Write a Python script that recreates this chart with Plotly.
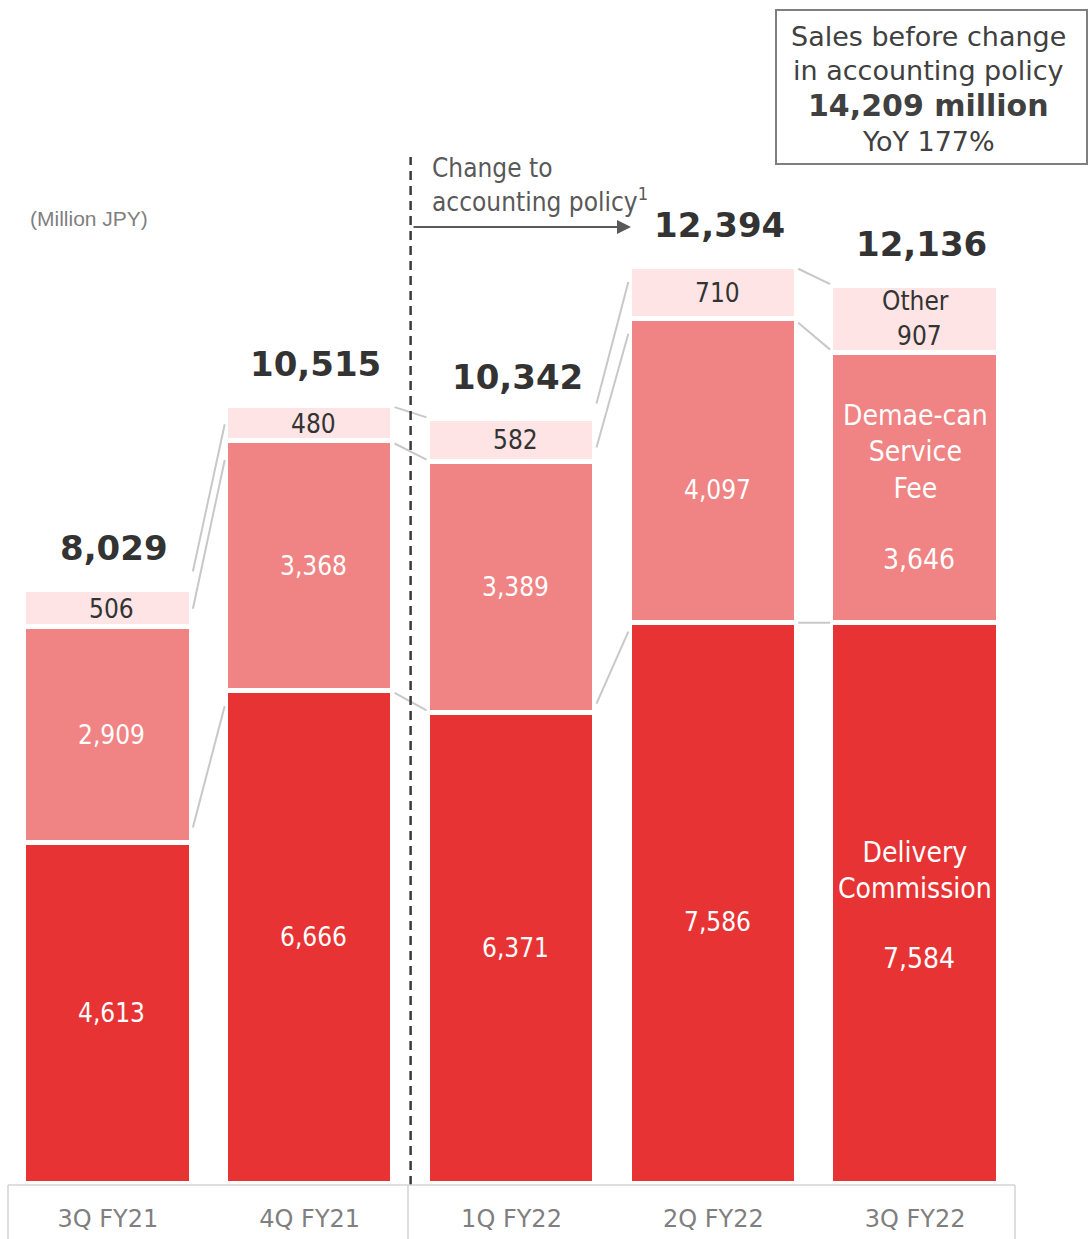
import plotly.graph_objects as go

# Quarterly sales breakdown (million JPY)
categories = ["3Q FY21", "4Q FY21", "1Q FY22", "2Q FY22", "3Q FY22"]
delivery = [4613, 6666, 6371, 7586, 7584]
service_fee = [2909, 3368, 3389, 4097, 3646]
other = [506, 480, 582, 710, 907]
totals = [8029, 10515, 10342, 12394, 12136]

COND = "DejaVu Sans Condensed, DejaVu Sans, sans-serif"
WIDE = "DejaVu Sans, Verdana, sans-serif"
RED = "#e83335"
PINK = "#f08383"
LIGHT = "#fee4e4"
DARK = "#333333"

W, H = 1089, 1239
ML, MR, MT, MB = 7, 73, 8, 55
PW, PH = W - ML - MR, H - MT - MB
YMAX = PH / 0.074


def px_to_paper_x(px):
    return (px - ML) / PW


def px_to_paper_y(py):
    return (H - MB - py) / PH


def fmt(v):
    return f"{v:,}"


x = list(range(len(categories)))
BAR_W = 0.83
# vertical nudge (pixels) of the in-bar labels per column
label_nudge = [0, 0, 0, -19, 0]

fig = go.Figure()
for name, vals, color in [("Delivery Commission", delivery, RED),
                          ("Demae-can Service Fee", service_fee, PINK),
                          ("Other", other, LIGHT)]:
    fig.add_trace(go.Bar(
        x=x, y=vals, name=name, width=BAR_W,
        marker=dict(color=color, line=dict(color="white", width=5)),
        hoverinfo="skip",
    ))

annotations = []
shapes = []


def label(xv, yv, text, color, size, family=COND, xs=4, ys=0):
    annotations.append(dict(x=xv, y=yv, text=text, showarrow=False,
                            xshift=xs, yshift=ys,
                            font=dict(color=color, size=size, family=family)))


# segment value labels and totals
for i in x:
    d_mid = delivery[i] / 2
    s_mid = delivery[i] + service_fee[i] / 2
    o_mid = delivery[i] + service_fee[i] + other[i] / 2
    if i == len(x) - 1:
        label(i, d_mid, "Delivery<br>Commission", "white", 28, xs=0, ys=33)
        label(i, d_mid, fmt(delivery[i]), "white", 28, ys=-55)
        label(i, s_mid, "Demae-can<br>Service<br>Fee", "white", 28, xs=0, ys=36)
        label(i, s_mid, fmt(service_fee[i]), "white", 28, ys=-72)
        label(i, o_mid, "Other", DARK, 26, xs=0, ys=18)
        label(i, o_mid, fmt(other[i]), DARK, 26, ys=-17)
    else:
        label(i, d_mid, fmt(delivery[i]), "white", 26, ys=label_nudge[i])
        label(i, s_mid, fmt(service_fee[i]), "white", 26, ys=label_nudge[i])
        label(i, o_mid, fmt(other[i]), DARK, 26)
    label(i, totals[i], f"<b>{fmt(totals[i])}</b>", DARK, 34, family=WIDE, xs=6, ys=42)

# connector lines between neighbouring bars
half = 162 / 2 / (PW / 5)
shrink = 0.1
for i in range(len(x) - 1):
    a_levels = [delivery[i], delivery[i] + service_fee[i], totals[i]]
    b_levels = [delivery[i + 1], delivery[i + 1] + service_fee[i + 1], totals[i + 1]]
    for ya, yb in zip(a_levels, b_levels):
        x0, x1 = i + half, i + 1 - half
        dx, dy = x1 - x0, yb - ya
        shapes.append(dict(type="line", xref="x", yref="y",
                           x0=x0 + dx * shrink, y0=ya + dy * shrink,
                           x1=x1 - dx * shrink, y1=yb - dy * shrink,
                           line=dict(color="#c8c8c8", width=2)))

# dashed divider for the accounting policy change
shapes.append(dict(type="line", xref="x", yref="paper", x0=1.5, x1=1.5,
                   y0=px_to_paper_y(1185), y1=px_to_paper_y(157),
                   line=dict(color="#3a3a3a", width=2.5, dash="9px,6px")))

# category frame below the bars
frame = dict(color="#d4d4d4", width=1.5)
shapes.append(dict(type="line", xref="paper", yref="paper",
                   x0=px_to_paper_x(8), x1=px_to_paper_x(1015),
                   y0=px_to_paper_y(1185), y1=px_to_paper_y(1185), line=frame))
for px in (8, 408, 1015):
    shapes.append(dict(type="line", xref="paper", yref="paper",
                       x0=px_to_paper_x(px), x1=px_to_paper_x(px),
                       y0=px_to_paper_y(1185), y1=px_to_paper_y(1239), line=frame))

# summary box
shapes.append(dict(type="rect", xref="paper", yref="paper",
                   x0=px_to_paper_x(776), x1=px_to_paper_x(1087),
                   y0=px_to_paper_y(164), y1=px_to_paper_y(10),
                   line=dict(color="#7f7f7f", width=2), fillcolor="white"))
box_lines = [("Sales before change", 36, 27), ("in accounting policy", 70, 27),
             ("<b>14,209 million</b>", 105, 30), ("YoY 177%", 142, 27)]
for txt, py, size in box_lines:
    annotations.append(dict(
        xref="paper", yref="paper", x=px_to_paper_x(928), y=px_to_paper_y(py),
        xanchor="center", yanchor="middle", text=txt, showarrow=False,
        font=dict(color="#404040", size=size, family=WIDE)))

# policy change note and arrow
annotations.append(dict(
    xref="paper", yref="paper", x=px_to_paper_x(430), y=px_to_paper_y(185),
    xanchor="left", yanchor="middle", align="left",
    text="Change to<br>accounting policy<sup>1</sup>", showarrow=False,
    font=dict(color="#595959", size=26, family=COND)))
annotations.append(dict(
    xref="paper", yref="paper", x=px_to_paper_x(631), y=px_to_paper_y(227),
    ax=-219, ay=0, text="", showarrow=True, arrowhead=2, arrowsize=1.4,
    arrowwidth=2, arrowcolor="#595959"))

# unit label
annotations.append(dict(
    xref="paper", yref="paper", x=px_to_paper_x(28), y=px_to_paper_y(218),
    xanchor="left", yanchor="middle", text="(Million JPY)", showarrow=False,
    font=dict(color="#7f7f7f", size=21, family="Liberation Sans, Arial, sans-serif")))

fig.update_layout(
    width=W, height=H,
    margin=dict(l=ML, r=MR, t=MT, b=MB),
    barmode="stack", bargap=0,
    showlegend=False,
    plot_bgcolor="white", paper_bgcolor="white",
    xaxis=dict(range=[-0.5, 4.5], tickvals=x, ticktext=categories,
               showgrid=False, zeroline=False, showline=False, ticks="",
               ticklabelstandoff=18,
               tickfont=dict(color="#7f7f7f", size=24, family=WIDE)),
    yaxis=dict(range=[0, YMAX], visible=False, showgrid=False, zeroline=False),
    shapes=shapes,
    annotations=annotations,
)

fig.write_html("out.html")
